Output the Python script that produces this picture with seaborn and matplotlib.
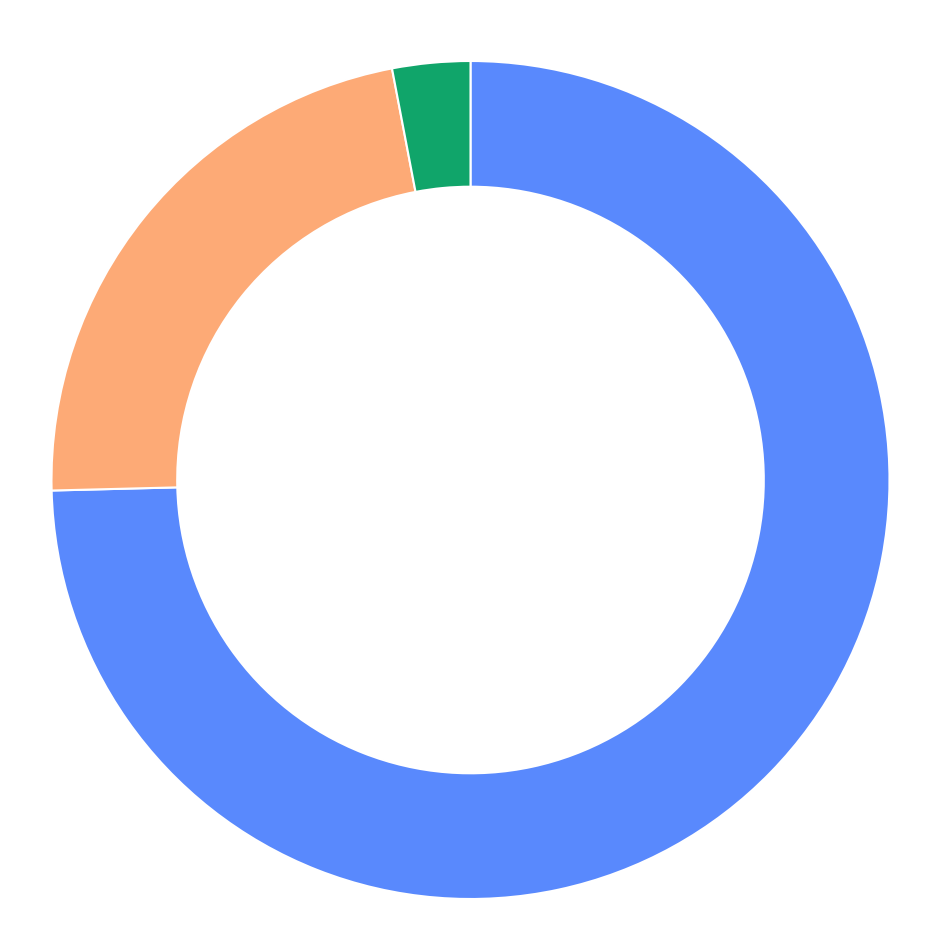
import matplotlib
matplotlib.use("Agg")
import matplotlib.pyplot as plt
import seaborn as sns

# slice shares (percent), clockwise from 12 o'clock
labels = ["Blue", "Orange", "Green"]
values = [74.6, 22.4, 3.0]
colors = ["#5989FD", "#FDAA76", "#10A56A"]

sns.set_theme(style="white")

fig = plt.figure(figsize=(9.47, 9.45), dpi=100)
ax = fig.add_axes([0, 0, 1, 1])

# work in pixel units so the ring lands where it does in the reference
ax.pie(values, colors=colors, startangle=90, counterclock=False,
       center=(470.5, 945 - 481), radius=419,
       wedgeprops=dict(width=419 * 0.30, edgecolor="white", linewidth=1.5))
ax.set_xlim(0, 947)
ax.set_ylim(0, 945)
ax.set_aspect("equal")
ax.axis("off")

fig.savefig("out.png", dpi=100, facecolor="white")
